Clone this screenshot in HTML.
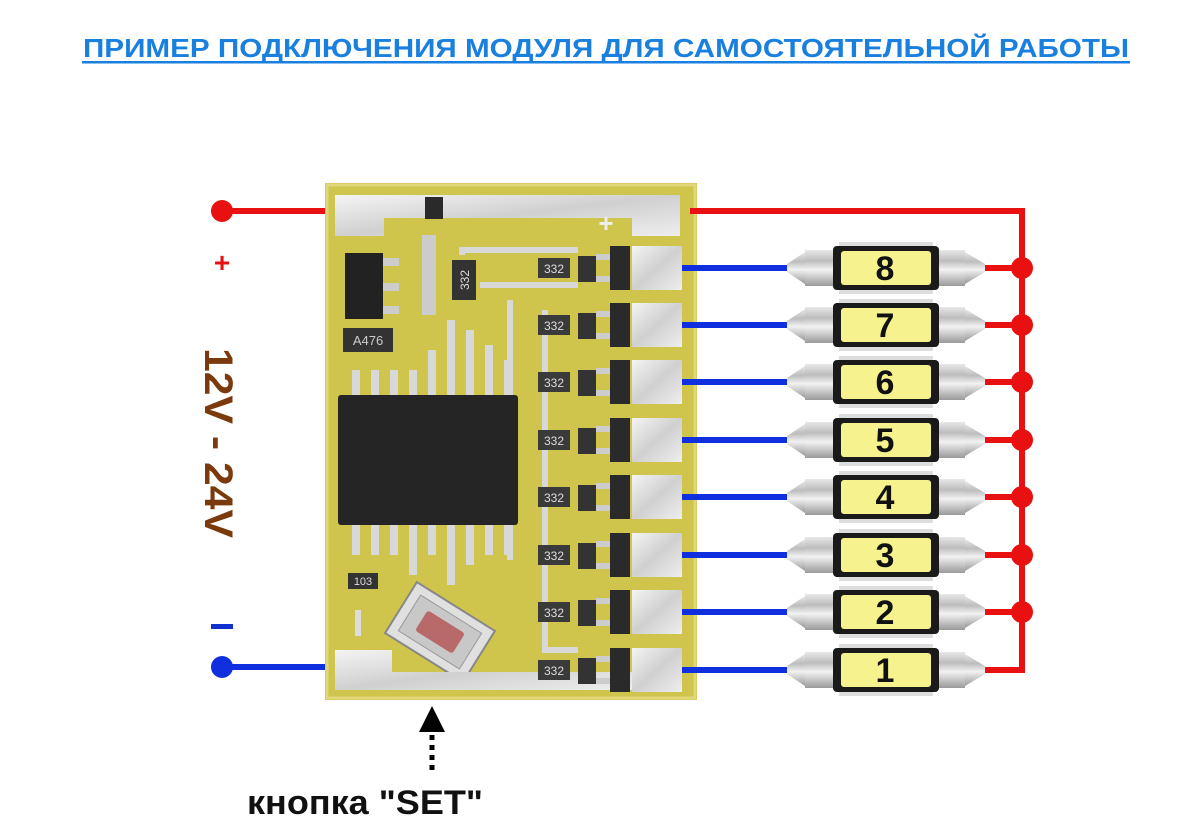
<!DOCTYPE html>
<html><head><meta charset="utf-8"><style>
html,body{margin:0;padding:0;background:#fff;width:1200px;height:839px;overflow:hidden}
svg{display:block}
</style></head><body>
<svg width="1200" height="839" viewBox="0 0 1200 839" xmlns="http://www.w3.org/2000/svg" font-family="'Liberation Sans', sans-serif">
<defs>
<linearGradient id="cap" x1="0" y1="0" x2="0" y2="1">
<stop offset="0" stop-color="#e8e8e8"/><stop offset="0.3" stop-color="#bdbdbd"/><stop offset="0.55" stop-color="#f2f2f2"/><stop offset="1" stop-color="#9a9a9a"/>
</linearGradient>
<linearGradient id="pad" x1="0" y1="0" x2="1" y2="1">
<stop offset="0" stop-color="#f4f4f4"/><stop offset="0.5" stop-color="#d0d0d0"/><stop offset="1" stop-color="#eeeeee"/>
</linearGradient>
<g id="led">
<rect x="-15" y="-3" width="20" height="6" fill="#1030e0"/>
<polygon points="0,-4 18,-16 18,16 0,4" fill="url(#cap)"/>
<rect x="18" y="-18" width="30" height="36" fill="url(#cap)"/>
<rect x="150" y="-18" width="28" height="36" fill="url(#cap)"/>
<polygon points="178,-16 198,-4 198,4 178,16" fill="url(#cap)"/>
<rect x="52" y="-26" width="94" height="52" fill="#ddd"/>
<rect x="46" y="-22" width="106" height="44" rx="4" fill="#1a1a1a"/>
<rect x="54" y="-17" width="90" height="34" rx="3" fill="#f6f38e"/>
</g>
<g id="row">
<rect x="632" y="-22" width="50" height="44" fill="url(#pad)"/>
<rect x="610" y="-22" width="20" height="44" fill="#2a2a2a"/>
<rect x="578" y="-12" width="18" height="26" fill="#333"/>
<rect x="596" y="-14" width="14" height="6" fill="#ccc"/>
<rect x="596" y="8" width="14" height="6" fill="#ccc"/>
<rect x="538" y="-10" width="32" height="20" fill="#3a3a3a"/>
<text x="554" y="5" font-size="12" fill="#ddd" text-anchor="middle">332</text>
<rect x="682" y="-3" width="108" height="6" fill="#1030e0"/>
</g>
</defs>

<text x="606" y="57" font-size="26" font-weight="bold" fill="#1a80e0" text-anchor="middle" textLength="1046" lengthAdjust="spacingAndGlyphs">ПРИМЕР ПОДКЛЮЧЕНИЯ МОДУЛЯ ДЛЯ САМОСТОЯТЕЛЬНОЙ РАБОТЫ</text>
<rect x="82" y="61" width="1048" height="2.5" fill="#1a80e0"/>

<rect x="222" y="208" width="110" height="6" fill="#e81010"/>
<circle cx="222" cy="211" r="11" fill="#e81010"/>
<text x="222" y="272" font-size="28" font-weight="bold" fill="#e81010" text-anchor="middle">+</text>
<rect x="211" y="624" width="22" height="5" fill="#1030d0"/>
<rect x="222" y="664" width="116" height="6" fill="#1030e0"/>
<circle cx="222" cy="667" r="11" fill="#1030e0"/>
<text transform="translate(205,443) rotate(90)" font-size="40" font-weight="bold" fill="#7a3a0c" text-anchor="middle" textLength="190" lengthAdjust="spacingAndGlyphs">12V - 24V</text>

<rect x="325" y="183" width="372" height="517" fill="#cfc44c"/>
<rect x="327" y="185" width="368" height="513" fill="none" stroke="#e0d67a" stroke-width="3"/>
<path d="M335 195 H680 V236 H632 V218 H384 V236 H335 Z" fill="url(#pad)"/>
<text x="606" y="232" font-size="26" font-weight="bold" fill="#eee" text-anchor="middle">+</text>
<rect x="425" y="197" width="18" height="22" fill="#2a2a2a"/>
<rect x="345" y="253" width="38" height="66" fill="#222"/>
<rect x="383" y="258" width="16" height="8" fill="#ccc"/><rect x="383" y="283" width="16" height="8" fill="#ccc"/><rect x="383" y="306" width="16" height="8" fill="#ccc"/>
<rect x="343" y="328" width="50" height="24" fill="#333"/>
<text x="368" y="345" font-size="13" fill="#ccc" text-anchor="middle">A476</text>
<rect x="422" y="235" width="14" height="80" fill="#ccc"/>
<rect x="452" y="260" width="24" height="40" fill="#333"/>
<text transform="translate(469,280) rotate(-90)" font-size="12" fill="#ddd" text-anchor="middle">332</text>
<path d="M462 255 V250 H578 M480 285 H578 M510 300 V560 M545 310 V650 H578" stroke="#d8d8d8" stroke-width="6" fill="none"/>
<g fill="#d8d8d8">
<rect x="352" y="370" width="8" height="26"/><rect x="371" y="370" width="8" height="26"/><rect x="390" y="370" width="8" height="26"/><rect x="409" y="370" width="8" height="26"/><rect x="428" y="350" width="8" height="46"/><rect x="447" y="320" width="8" height="76"/><rect x="466" y="330" width="8" height="66"/><rect x="485" y="345" width="8" height="51"/><rect x="504" y="360" width="8" height="36"/>
<rect x="352" y="525" width="8" height="30"/><rect x="371" y="525" width="8" height="30"/><rect x="390" y="525" width="8" height="30"/><rect x="409" y="525" width="8" height="50"/><rect x="428" y="525" width="8" height="30"/><rect x="447" y="525" width="8" height="60"/><rect x="466" y="525" width="8" height="40"/><rect x="485" y="525" width="8" height="30"/><rect x="504" y="525" width="8" height="30"/>
</g>
<rect x="338" y="395" width="180" height="130" rx="3" fill="#252525"/>
<rect x="348" y="573" width="30" height="16" fill="#333"/>
<text x="363" y="585" font-size="11" fill="#ddd" text-anchor="middle">103</text>
<g transform="translate(440,632) rotate(32)">
<rect x="-46" y="-30" width="92" height="60" fill="#e0e0e0" stroke="#888" stroke-width="2"/>
<rect x="-36" y="-21" width="72" height="42" fill="#c8c8c8" stroke="#999"/>
<rect x="-22" y="-12" width="44" height="24" rx="3" fill="#b86a6a"/>
</g>
<path d="M335 650 H392 V672 H632 V690 H335 Z" fill="url(#pad)"/>
<rect x="355" y="610" width="6" height="26" fill="#ddd"/>
<use href="#row" y="268"/><use href="#row" y="325"/><use href="#row" y="382"/><use href="#row" y="440"/>
<use href="#row" y="497"/><use href="#row" y="555"/><use href="#row" y="612"/><use href="#row" y="670"/>

<rect x="690" y="208" width="335" height="6" fill="#e81010"/>
<rect x="1019" y="208" width="6" height="465" fill="#e81010"/>
<g fill="#e81010">
<rect x="985" y="265" width="40" height="6"/><rect x="985" y="322" width="40" height="6"/><rect x="985" y="379" width="40" height="6"/><rect x="985" y="437" width="40" height="6"/>
<rect x="985" y="494" width="40" height="6"/><rect x="985" y="552" width="40" height="6"/><rect x="985" y="609" width="40" height="6"/><rect x="985" y="667" width="40" height="6"/>
<circle cx="1022" cy="268" r="11"/><circle cx="1022" cy="325" r="11"/><circle cx="1022" cy="382" r="11"/><circle cx="1022" cy="440" r="11"/>
<circle cx="1022" cy="497" r="11"/><circle cx="1022" cy="555" r="11"/><circle cx="1022" cy="612" r="11"/>
</g>

<g font-size="34" font-weight="bold" fill="#111" text-anchor="middle">
<use href="#led" x="787" y="268"/><text x="885" y="280">8</text>
<use href="#led" x="787" y="325"/><text x="885" y="337">7</text>
<use href="#led" x="787" y="382"/><text x="885" y="394">6</text>
<use href="#led" x="787" y="440"/><text x="885" y="452">5</text>
<use href="#led" x="787" y="497"/><text x="885" y="509">4</text>
<use href="#led" x="787" y="555"/><text x="885" y="567">3</text>
<use href="#led" x="787" y="612"/><text x="885" y="624">2</text>
<use href="#led" x="787" y="670"/><text x="885" y="682">1</text>
</g>

<polygon points="432,706 419,732 445,732" fill="#000"/>
<line x1="432" y1="735" x2="432" y2="772" stroke="#000" stroke-width="5" stroke-dasharray="5,5"/>
<text x="365" y="814" font-size="34" font-weight="bold" fill="#111" text-anchor="middle" textLength="236" lengthAdjust="spacingAndGlyphs">кнопка "SET"</text>
</svg>
</body></html>
